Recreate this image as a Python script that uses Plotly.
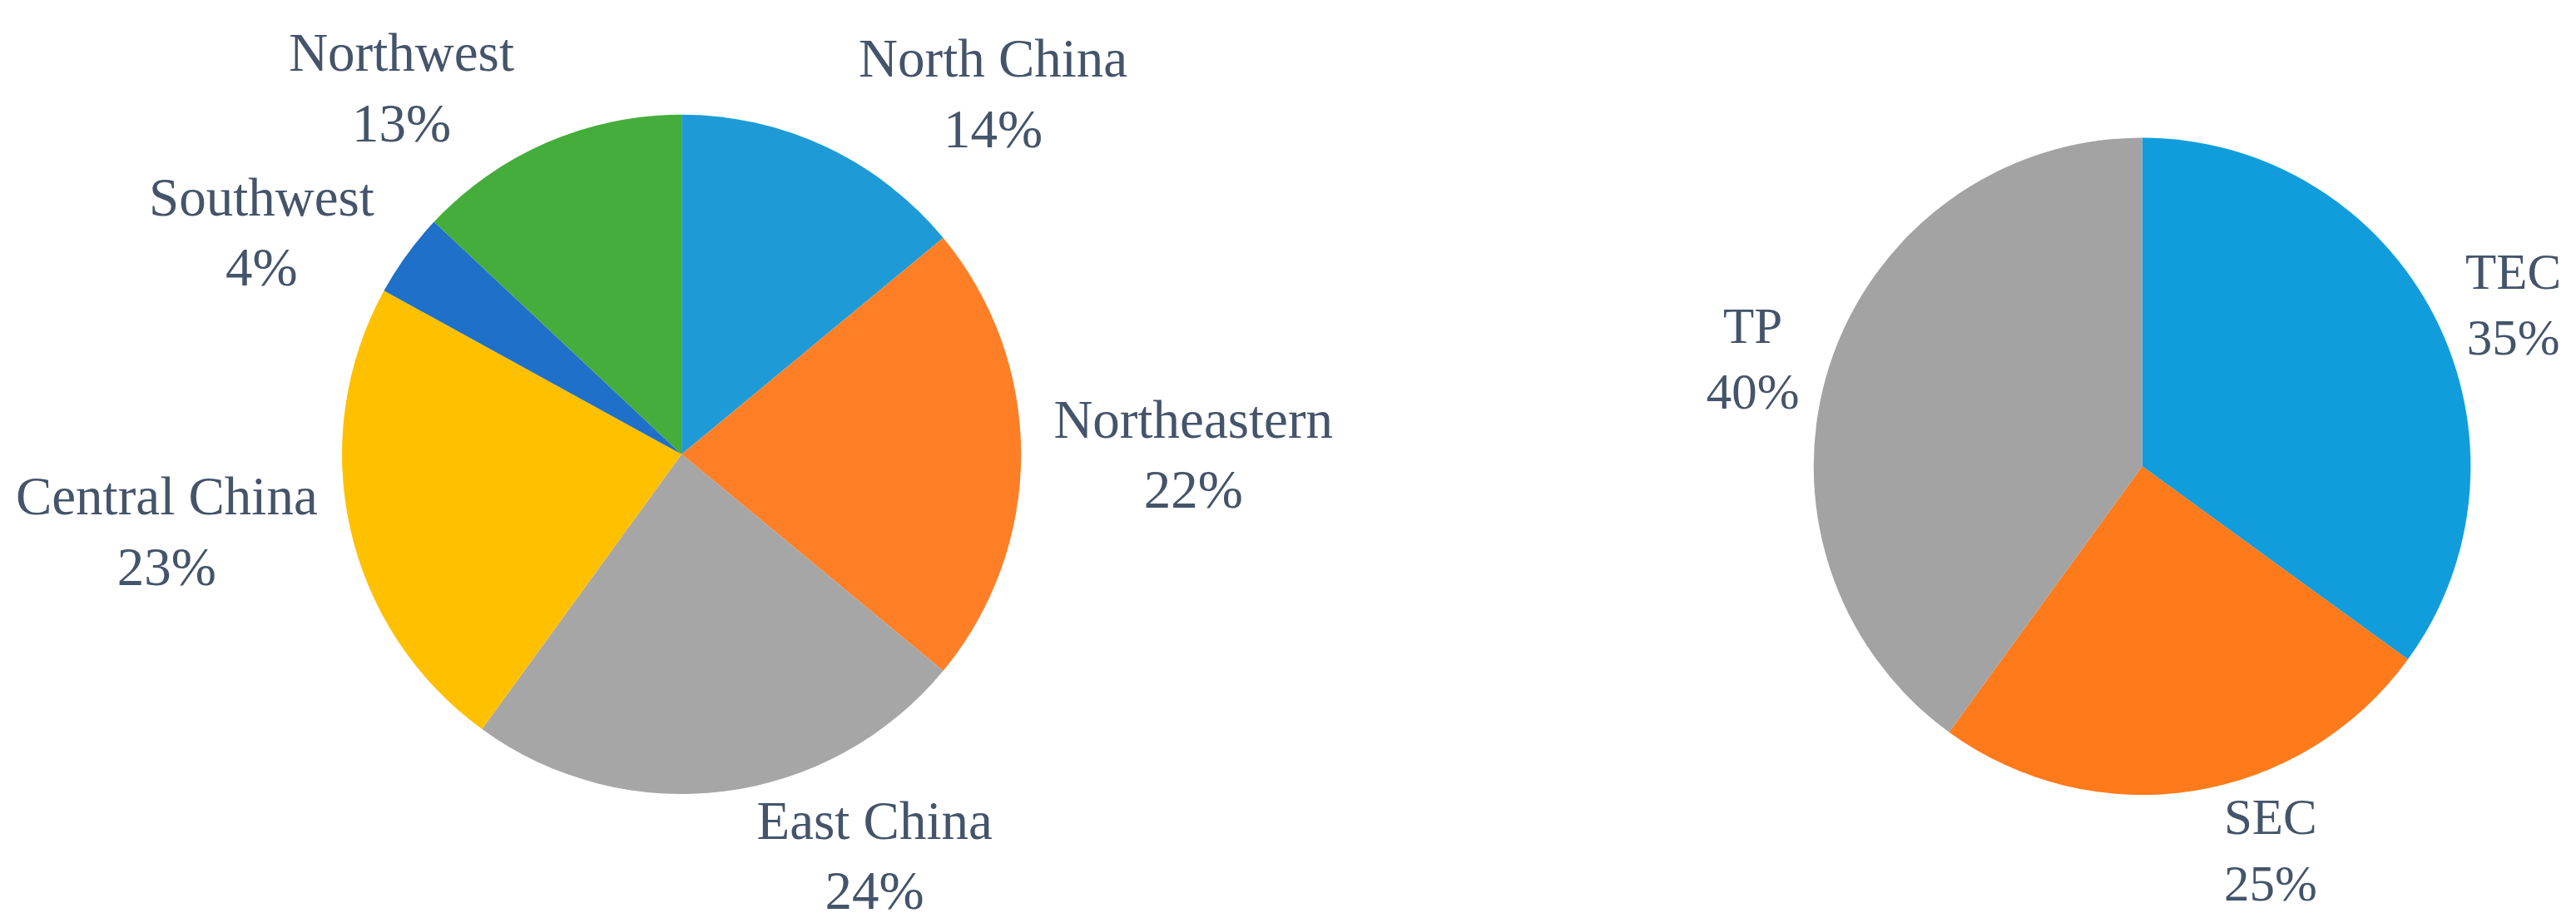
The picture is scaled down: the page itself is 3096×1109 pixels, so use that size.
import plotly.graph_objects as go

# regional shares (left pie), clockwise from 12 o'clock
regions = ["North China", "Northeastern", "East China", "Central China", "Southwest", "Northwest"]
region_share = [14, 22, 24, 23, 4, 13]
region_colors = ["#1E9BD7", "#FF7F27", "#A6A6A6", "#FFC000", "#1F70C8", "#45AD3B"]

# type shares (right pie)
types = ["TEC", "SEC", "TP"]
type_share = [35, 25, 40]
type_colors = ["#119DDC", "#FF7A1A", "#A3A3A3"]

font_family = "Liberation Serif, Times New Roman, serif"
text_color = "#44546A"

fig = go.Figure()

fig.add_trace(go.Pie(
    labels=regions, values=region_share,
    marker=dict(colors=region_colors, line=dict(width=0)),
    sort=False, direction="clockwise", rotation=0,
    textposition="outside", texttemplate="%{label}<br>%{percent:.0%}",
    textfont=dict(family=font_family, size=65, color=text_color),
    showlegend=False, automargin=False,
    domain=dict(x=[0.0, 0.524], y=[0.147, 0.883]),
))

fig.add_trace(go.Pie(
    labels=types, values=type_share,
    marker=dict(colors=type_colors, line=dict(width=0)),
    sort=False, direction="clockwise", rotation=0,
    textposition="outside", texttemplate="%{label}<br>%{percent:.0%}",
    textfont=dict(family=font_family, size=61, color=text_color),
    showlegend=False, automargin=False,
    domain=dict(x=[0.676, 0.982], y=[0.146, 0.858]),
))

fig.update_layout(
    width=3096, height=1109,
    margin=dict(l=0, r=0, t=0, b=0, autoexpand=False),
    paper_bgcolor="white",
    plot_bgcolor="white",
)

fig.write_html("out.html")
